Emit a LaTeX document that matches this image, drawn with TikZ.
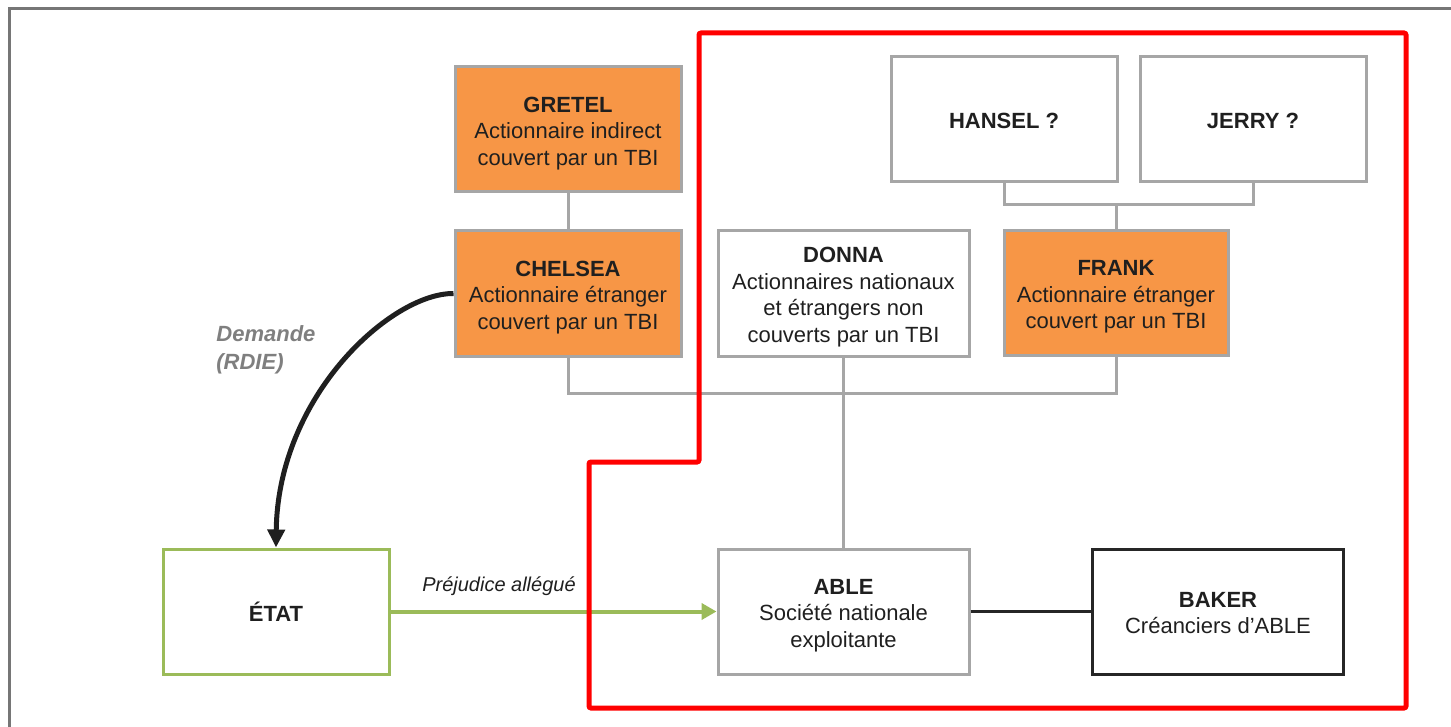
\documentclass[tikz,border=0pt]{standalone}
\usepackage{fontspec}
\setmainfont{Liberation Sans}
\usetikzlibrary{arrows.meta}
\definecolor{orangefill}{HTML}{F79646}
\definecolor{boxgray}{HTML}{A6A6A6}
\definecolor{greenline}{HTML}{9BBB59}
\definecolor{redline}{HTML}{FF0000}
\definecolor{framegray}{HTML}{767676}
\definecolor{darktext}{HTML}{1F1F1F}
\definecolor{darkline}{HTML}{262626}
\definecolor{labelgray}{HTML}{7F7F7F}
\newcommand{\toprl}{\rule{0pt}{11.4pt}}
\newcommand{\botrl}{\rule[-2.3pt]{0pt}{0pt}}
\tikzset{
  box/.style={draw=boxgray, line width=1.5pt, align=center, inner sep=0pt,
    minimum width=113pt, minimum height=62.5pt, text=darktext,
    font=\fontsize{11}{13.25}\selectfont},
  widebox/.style={box, minimum width=125.5pt},
  orangebox/.style={box, fill=orangefill},
  statebox/.style={box, draw=greenline},
  creditorbox/.style={widebox, draw=darkline},
  link/.style={draw=boxgray, line width=1.5pt},
  darklink/.style={draw=darkline, line width=1.5pt},
  harmarrow/.style={draw=greenline, line width=2pt, -{Triangle[length=7.5pt,width=8pt]}},
  claimarrow/.style={draw=darktext, line width=2.5pt, -{Triangle[length=9pt,width=8.5pt]}},
  zone/.style={draw=redline, line width=2.5pt, rounded corners=1pt},
  frame/.style={draw=framegray, line width=1.5pt},
  lbl/.style={font=\fontsize{10}{12}\selectfont\itshape, text=darktext, inner sep=0pt},
  graylbl/.style={font=\fontsize{11}{14}\selectfont\bfseries\itshape, text=labelgray, align=left, inner sep=0pt}
}
\begin{document}
\begin{tikzpicture}[x=0.5pt, y=-0.5pt]
\useasboundingbox (0,0) rectangle (1451,727);
% outer frame (top and left visible)
\draw[frame] (9,740) -- (9,9) -- (1460,9);

% nodes
\node[orangebox] (gretel) at (568,129.5) {\toprl\textbf{GRETEL}\\Actionnaire indirect\\couvert par un TBI\botrl};
\node[orangebox] (chelsea) at (568,293.5) {\toprl\textbf{CHELSEA}\\Actionnaire étranger\\couvert par un TBI\botrl};
\node[widebox] (donna) at (843.5,293.5) {\toprl\textbf{DONNA}\\Actionnaires nationaux\\et étrangers non\\couverts par un TBI\botrl};
\node[orangebox, minimum width=112pt] (frank) at (1116,293) {\toprl\textbf{FRANK}\\Actionnaire étranger\\couvert par un TBI\botrl};
\node[box] (hansel) at (1004,119.5) {\toprl\textbf{HANSEL ?}\botrl};
\node[box] (jerry) at (1253,119.5) {\toprl\textbf{JERRY ?}\botrl};
\node[statebox] (etat) at (276,611.5) {\textbf{ÉTAT}};
\node[widebox] (able) at (843.5,611.5) {\toprl\textbf{ABLE}\\Société nationale\\exploitante\botrl};
\node[creditorbox] (baker) at (1218,611.5) {\toprl\textbf{BAKER}\\Créanciers d’ABLE\botrl};

% connectors
\coordinate (hj) at (1116,205);
\coordinate (bus) at (843.5,393);
\draw[link] (gretel.south) -- (chelsea.north);
\draw[link] (hansel.south) |- (hj) -| (jerry.south);
\draw[link] (hj) -- (frank.north);
\draw[link] (chelsea.south) |- (bus) -| (frank.south);
\draw[link] (donna.south) -- (able.north);
\draw[darklink] (able.east) -- (baker.west);

% arrows
\draw[harmarrow] (etat.east) -- (able.west);
\node[lbl] (harmlabel) at (499,586) {Préjudice allégué};
\draw[claimarrow] (chelsea.west) .. controls (392,293) and (278,395) .. (etat.north);
\node[graylbl, anchor=west] (claimlabel) at (216,350) {Demande\\(RDIE)};

% red zone
\draw[zone] (699,462) -- (699,33) -- (1406,33) -- (1406,708) -- (589,708) -- (589,462) -- cycle;
\end{tikzpicture}
\end{document}
